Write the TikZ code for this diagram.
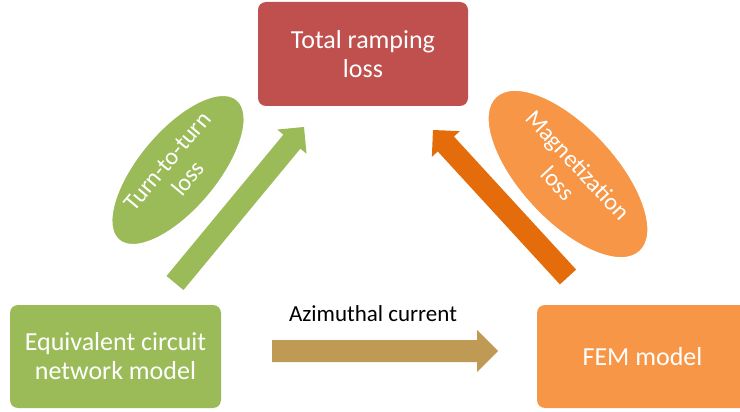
\documentclass[tikz,border=0pt]{standalone}
\usepackage{fontspec}
\setmainfont{Carlito}
\usetikzlibrary{calc,shapes.geometric,shadows}
\definecolor{cred}{RGB}{192,80,77}
\definecolor{cgreen}{RGB}{155,187,89}
\definecolor{corange}{RGB}{247,150,70}
\definecolor{cdark}{RGB}{228,108,10}
\definecolor{ctan}{RGB}{191,154,84}
\newcommand{\blockarrow}[6]{% tail, tip, half shaft, half head, head length, colour
  \coordinate (hb) at ($(#2)!#5!(#1)$);
  \fill[#6] ($(#1)!#3!90:(#2)$) -- ($(hb)!#3!-90:(#1)$) -- ($(hb)!#4!-90:(#1)$) -- (#2)
    -- ($(hb)!#4!90:(#1)$) -- ($(hb)!#3!90:(#1)$) -- ($(#1)!#3!-90:(#2)$) -- cycle;
}
\tikzset{
  box/.style={rectangle, rounded corners=8pt, minimum width=211pt, minimum height=103pt,
    text=white, align=center, font=\fontsize{26}{29}\selectfont, inner sep=0pt},
  oval/.style={ellipse, draw=white, line width=3pt, inner sep=0pt,
    drop shadow={opacity=0.25, shadow xshift=1pt, shadow yshift=-1pt}},
  ovaltext/.style={text=white, align=center, font=\fontsize{24}{27}\selectfont, inner sep=0pt},
}
\begin{document}
\begin{tikzpicture}[x=1pt,y=-1pt]
\useasboundingbox (0,0) rectangle (740,412);
\node[box, fill=cred, minimum width=210pt, minimum height=104pt] (total) at (363,54) {Total ramping\\loss};
\node[box, fill=cgreen] (ecn) at (115.5,356.5) {Equivalent circuit\\network model};
\node[box, fill=corange] (fem) at (642.5,356.5) {FEM model};
\node[font=\fontsize{23}{26}\selectfont, inner sep=0pt, anchor=base] (az) at (373,321) {Azimuthal current};
% ovals
\node[oval, fill=cgreen, minimum width=185pt, minimum height=81pt, rotate=50] (tt) at (178,170) {};
\node[ovaltext, rotate=50] (ttl) at (tt.center) {Turn-to-turn\\loss};
\node[oval, fill=corange, minimum width=213pt, minimum height=97pt, rotate=-47] (mg) at (568,174) {};
\node[ovaltext, rotate=-47] (mgl) at (mg.center) {Magnetization\\loss};
% arrows
\coordinate (gt) at (175,283);
\coordinate (gh) at (304,127);
\coordinate (ot) at (568,277);
\coordinate (oh) at (433,130);
\coordinate (at) at (272,351);
\coordinate (ah) at (498,351);
\blockarrow{gt}{gh}{11pt}{19pt}{19pt}{cgreen}
\blockarrow{ot}{oh}{11pt}{19pt}{19pt}{cdark}
\blockarrow{at}{ah}{11pt}{21pt}{21pt}{ctan}
\end{tikzpicture}
\end{document}
